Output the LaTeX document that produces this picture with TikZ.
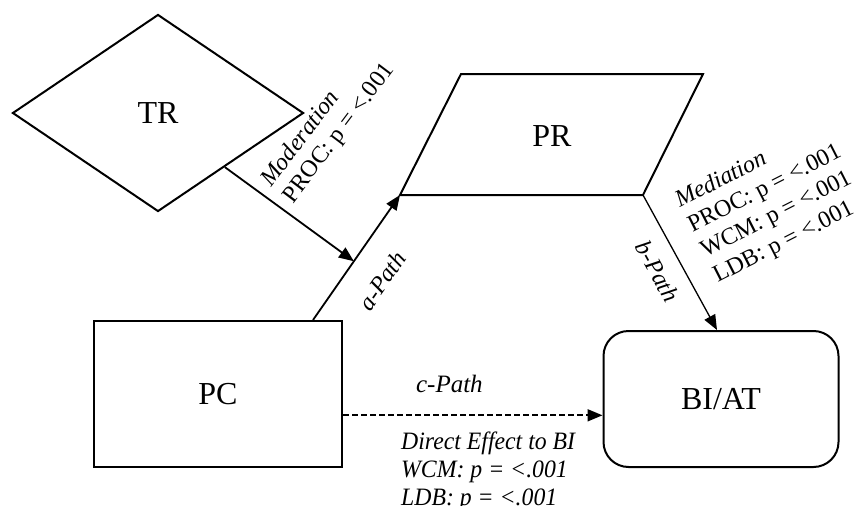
\documentclass[tikz,border=0pt]{standalone}
\usepackage{fontspec}
\setmainfont{Liberation Serif}
\newfontfamily\narrowfont{Liberation Serif}[FakeStretch=0.95]
\usepackage{tikz}
\usetikzlibrary{
	arrows.meta, shapes.geometric, positioning, calc
}
\setlength{\lineskiplimit}{-20pt}

\begin{document}
\begin{tikzpicture}[x=1pt,y=-1pt,
		box/.style={draw,line width=2pt,inner sep=0pt,font=\fontsize{32}{36}\selectfont},
		link/.style={line width=1.8pt,-{Triangle[length=15pt,width=12pt]}},
		note/.style={inner sep=0pt,align=left,font=\fontsize{24}{28}\selectfont},
		pathlabel/.style={inner sep=0pt,font=\fontsize{24}{28}\selectfont\itshape}]
				\useasboundingbox (0,0) rectangle (860,506);
				\node[box,diamond,minimum width=291pt,minimum height=197pt] (tr) at (158,113) {TR};
				\coordinate (prbl) at (400,195);
				\coordinate (prbr) at (643,195);
				\coordinate (prtr) at (703,74);
				\coordinate (prtl) at (461,74);
				\draw[line width=2pt] (prbl) -- (prbr) -- (prtr) -- (prtl) -- cycle;
				\node[box,draw=none] (pr) at (552,136) {PR};
				\node[box,rectangle,minimum width=248pt,minimum height=146pt] (pc) at (218,394) {PC};
				\node[box,rectangle,rounded corners=25pt,minimum width=235pt,minimum height=136pt] (bi) at (721,399) {BI/AT};
				\coordinate (astart) at ($(pc.north west)!0.88!(pc.north east)$);
				\coordinate (amid) at ($(astart)!0.47!(prbl)$);
				\coordinate (cstart) at ($(pc.south east)!0.356!(pc.north east)$);
				\draw[link] (astart) -- (prbl) node[pathlabel,pos=0.47,sloped,below=25pt] {a-Path};
				\draw[link] (tr.-39) -- (amid);
				\draw[link,line width=1.3pt] (prbr) -- ([xshift=-4pt]bi.north) node[pathlabel,pos=0.48,sloped,below=15pt] {b-Path};
				\draw[link,dash pattern=on 6pt off 3pt] (cstart) -- (cstart -| bi.west) node[pathlabel,font=\fontsize{25}{28}\selectfont\itshape,pos=0.41,above=22pt] {c-Path};
				\node[note,rotate=53,anchor=north west] (moder) at (258,178) {\textit{Moderation}\\[-1pt]PROC: p = <.001};
				\node[note,rotate=27,anchor=north west] (media) at (672,193) {\textit{Mediation}\\PROC: p = <.001\\WCM: p = <.001\\LDB: p = <.001};
				\node[note,anchor=north west,font=\narrowfont\fontsize{25}{27.7}\selectfont\itshape] (direct) at (401,432) {Direct Effect to BI\\WCM: p = <.001\\LDB: p = <.001};
			\end{tikzpicture}
\end{document}
